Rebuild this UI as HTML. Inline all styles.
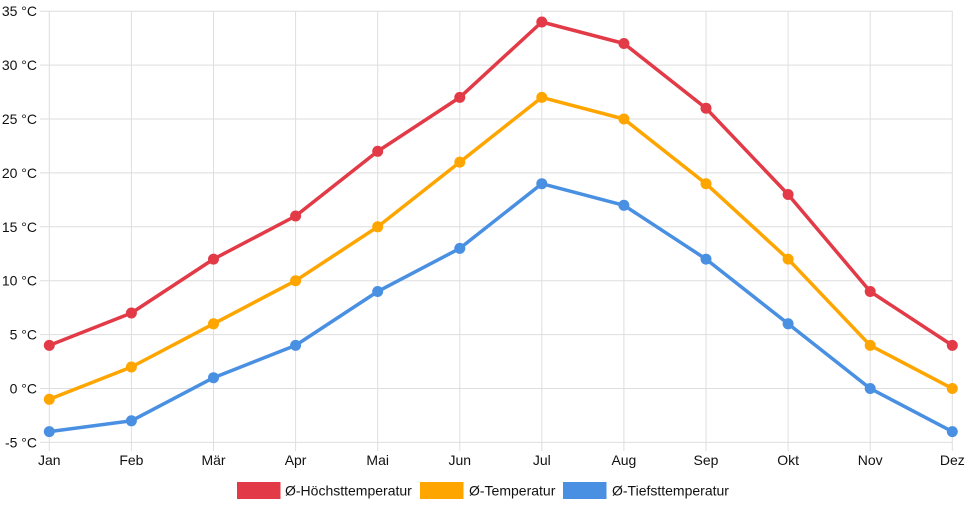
<!DOCTYPE html>
<html><head><meta charset="utf-8"><style>
html,body{margin:0;padding:0;background:#fff;}
svg{display:block;}
text{font-family:"Liberation Sans",Arial,sans-serif;font-size:14px;fill:#111;}
</style></head><body>
<svg width="968" height="508" viewBox="0 0 968 508" xmlns="http://www.w3.org/2000/svg">
<g stroke="#dedede" stroke-width="1" fill="none">
<line x1="40" y1="11.2" x2="952.3" y2="11.2"/>
<line x1="40" y1="65.1" x2="952.3" y2="65.1"/>
<line x1="40" y1="119" x2="952.3" y2="119"/>
<line x1="40" y1="172.9" x2="952.3" y2="172.9"/>
<line x1="40" y1="226.8" x2="952.3" y2="226.8"/>
<line x1="40" y1="280.7" x2="952.3" y2="280.7"/>
<line x1="40" y1="334.6" x2="952.3" y2="334.6"/>
<line x1="40" y1="388.5" x2="952.3" y2="388.5"/>
<line x1="40" y1="442.4" x2="952.3" y2="442.4"/>
<line x1="49.3" y1="11.2" x2="49.3" y2="451"/>
<line x1="131.4" y1="11.2" x2="131.4" y2="451"/>
<line x1="213.5" y1="11.2" x2="213.5" y2="451"/>
<line x1="295.6" y1="11.2" x2="295.6" y2="451"/>
<line x1="377.7" y1="11.2" x2="377.7" y2="451"/>
<line x1="459.8" y1="11.2" x2="459.8" y2="451"/>
<line x1="541.8" y1="11.2" x2="541.8" y2="451"/>
<line x1="623.9" y1="11.2" x2="623.9" y2="451"/>
<line x1="706" y1="11.2" x2="706" y2="451"/>
<line x1="788.1" y1="11.2" x2="788.1" y2="451"/>
<line x1="870.2" y1="11.2" x2="870.2" y2="451"/>
<line x1="952.3" y1="11.2" x2="952.3" y2="451"/>
</g>
<g text-anchor="end" dominant-baseline="central">
<text x="37" y="11.2">35 °C</text>
<text x="37" y="65.1">30 °C</text>
<text x="37" y="119">25 °C</text>
<text x="37" y="172.9">20 °C</text>
<text x="37" y="226.8">15 °C</text>
<text x="37" y="280.7">10 °C</text>
<text x="37" y="334.6">5 °C</text>
<text x="37" y="388.5">0 °C</text>
<text x="37" y="442.4">-5 °C</text>
</g>
<g text-anchor="middle" dominant-baseline="central">
<text x="49.3" y="460">Jan</text>
<text x="131.4" y="460">Feb</text>
<text x="213.5" y="460">Mär</text>
<text x="295.6" y="460">Apr</text>
<text x="377.7" y="460">Mai</text>
<text x="459.8" y="460">Jun</text>
<text x="541.8" y="460">Jul</text>
<text x="623.9" y="460">Aug</text>
<text x="706" y="460">Sep</text>
<text x="788.1" y="460">Okt</text>
<text x="870.2" y="460">Nov</text>
<text x="952.3" y="460">Dez</text>
</g>
<!-- blue -->
<g fill="#4a90e2" stroke="#4a90e2">
<polyline fill="none" stroke-width="3.5" stroke-linejoin="round" points="49.3,431.6 131.4,420.8 213.5,377.7 295.6,345.4 377.7,291.5 459.8,248.4 541.8,183.7 623.9,205.3 706,259.1 788.1,323.8 870.2,388.5 952.3,431.6"/>
<g stroke="none">
<circle cx="49.3" cy="431.6" r="5.5"/><circle cx="131.4" cy="420.8" r="5.5"/><circle cx="213.5" cy="377.7" r="5.5"/><circle cx="295.6" cy="345.4" r="5.5"/><circle cx="377.7" cy="291.5" r="5.5"/><circle cx="459.8" cy="248.4" r="5.5"/><circle cx="541.8" cy="183.7" r="5.5"/><circle cx="623.9" cy="205.3" r="5.5"/><circle cx="706" cy="259.1" r="5.5"/><circle cx="788.1" cy="323.8" r="5.5"/><circle cx="870.2" cy="388.5" r="5.5"/><circle cx="952.3" cy="431.6" r="5.5"/>
</g></g>
<!-- orange -->
<g fill="#ffa500" stroke="#ffa500">
<polyline fill="none" stroke-width="3.5" stroke-linejoin="round" points="49.3,399.3 131.4,367 213.5,323.8 295.6,280.7 377.7,226.8 459.8,162.1 541.8,97.4 623.9,119 706,183.7 788.1,259.1 870.2,345.4 952.3,388.5"/>
<g stroke="none">
<circle cx="49.3" cy="399.3" r="5.5"/><circle cx="131.4" cy="367" r="5.5"/><circle cx="213.5" cy="323.8" r="5.5"/><circle cx="295.6" cy="280.7" r="5.5"/><circle cx="377.7" cy="226.8" r="5.5"/><circle cx="459.8" cy="162.1" r="5.5"/><circle cx="541.8" cy="97.4" r="5.5"/><circle cx="623.9" cy="119" r="5.5"/><circle cx="706" cy="183.7" r="5.5"/><circle cx="788.1" cy="259.1" r="5.5"/><circle cx="870.2" cy="345.4" r="5.5"/><circle cx="952.3" cy="388.5" r="5.5"/>
</g></g>
<!-- red -->
<g fill="#e23a47" stroke="#e23a47">
<polyline fill="none" stroke-width="3.5" stroke-linejoin="round" points="49.3,345.4 131.4,313 213.5,259.1 295.6,216 377.7,151.3 459.8,97.4 541.8,22 623.9,43.5 706,108.2 788.1,194.5 870.2,291.5 952.3,345.4"/>
<g stroke="none">
<circle cx="49.3" cy="345.4" r="5.5"/><circle cx="131.4" cy="313" r="5.5"/><circle cx="213.5" cy="259.1" r="5.5"/><circle cx="295.6" cy="216" r="5.5"/><circle cx="377.7" cy="151.3" r="5.5"/><circle cx="459.8" cy="97.4" r="5.5"/><circle cx="541.8" cy="22" r="5.5"/><circle cx="623.9" cy="43.5" r="5.5"/><circle cx="706" cy="108.2" r="5.5"/><circle cx="788.1" cy="194.5" r="5.5"/><circle cx="870.2" cy="291.5" r="5.5"/><circle cx="952.3" cy="345.4" r="5.5"/>
</g></g>
<!-- legend -->
<rect x="237" y="482" width="43.5" height="17" fill="#e23a47"/>
<text x="285" y="490.5" dominant-baseline="central">Ø-Höchsttemperatur</text>
<rect x="420" y="482" width="43.5" height="17" fill="#ffa500"/>
<text x="469" y="490.5" dominant-baseline="central">Ø-Temperatur</text>
<rect x="563" y="482" width="43.5" height="17" fill="#4a90e2"/>
<text x="612" y="490.5" dominant-baseline="central">Ø-Tiefsttemperatur</text>
</svg>
</body></html>
